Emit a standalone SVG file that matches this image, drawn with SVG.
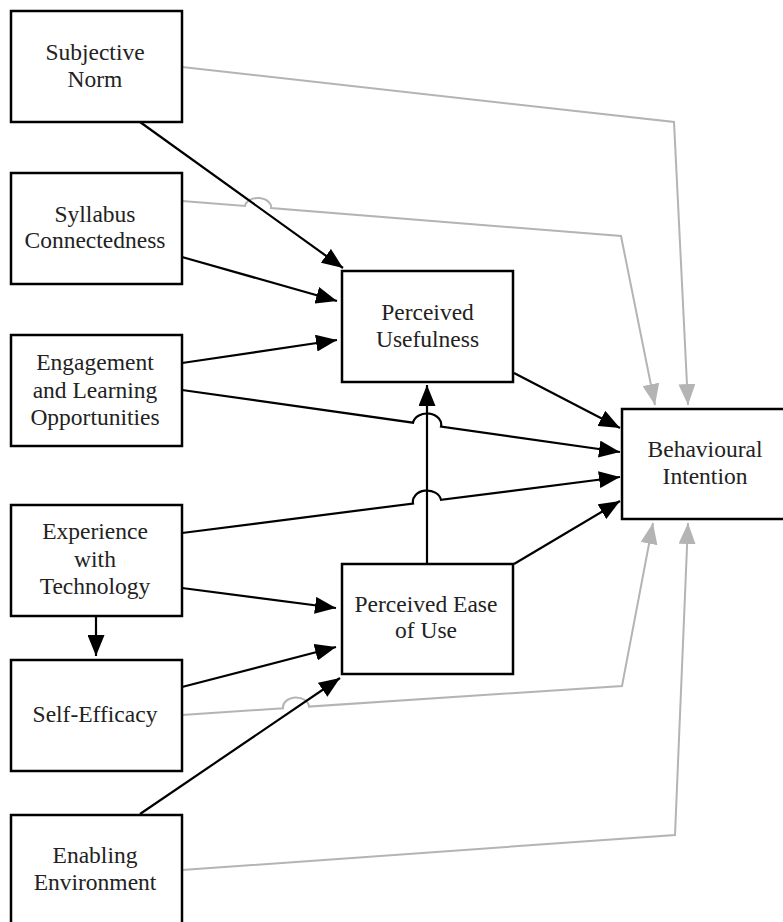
<svg xmlns="http://www.w3.org/2000/svg" width="783" height="922" viewBox="0 0 783 922">
  <defs>
    <style>
      .box { fill: #ffffff; stroke: #000000; stroke-width: 2.5; }
      .lbl { font-family: "Liberation Serif", "Times New Roman", serif; font-size: 23.5px; fill: #222222; text-anchor: middle; }
      .blk { fill: none; stroke: #000000; stroke-width: 2.2; }
      .gry { fill: none; stroke: #b4b4b4; stroke-width: 2; }
    </style>
    <marker id="ahBlack" markerUnits="userSpaceOnUse" markerWidth="21" markerHeight="17" refX="21" refY="8.5" orient="auto" viewBox="0 0 21 17">
      <path d="M0,0 L21,8.5 L0,17 z" fill="#000000"/>
    </marker>
    <marker id="ahGrey" markerUnits="userSpaceOnUse" markerWidth="21" markerHeight="17" refX="21" refY="8.5" orient="auto" viewBox="0 0 21 17">
      <path d="M0,0 L21,8.5 L0,17 z" fill="#b4b4b4"/>
    </marker>
  </defs>
  <rect width="783" height="922" fill="#ffffff"/>

  <!-- connectors -->
  <g id="connectors">
    <!-- grey paths to Behavioural Intention -->
    <path class="gry" marker-end="url(#ahGrey)" d="M182,67 L674,122 L688,405"/>
    <path class="gry" marker-end="url(#ahGrey)" d="M182,201 L245,206 A13,9 0 0 1 271,208.1 L621,236 L655,405"/>
    <path class="gry" marker-end="url(#ahGrey)" d="M182,715 L283,708.3 A13,10 0 0 1 309,706.6 L622,686 L653,523"/>
    <path class="gry" marker-end="url(#ahGrey)" d="M182,870 L675,835 L688,523"/>

    <!-- black paths -->
    <path class="blk" marker-end="url(#ahBlack)" d="M140,122 L343,268"/>
    <path class="blk" marker-end="url(#ahBlack)" d="M182,257 L337,301"/>
    <path class="blk" marker-end="url(#ahBlack)" d="M182,363 L337,340"/>
    <path class="blk" marker-end="url(#ahBlack)" d="M182,390 L413,422.7 A14,11 0 0 1 441,426.7 L620,452"/>
    <path class="blk" marker-end="url(#ahBlack)" d="M182,533 L413,503.5 A14,11 0 0 1 441,499.9 L620,477"/>
    <path class="blk" marker-end="url(#ahBlack)" d="M182,588 L336,608"/>
    <path class="blk" marker-end="url(#ahBlack)" d="M96,616 L96,656"/>
    <path class="blk" marker-end="url(#ahBlack)" d="M182,687 L336,647"/>
    <path class="blk" marker-end="url(#ahBlack)" d="M140,814 L340,678"/>
    <path class="blk" marker-end="url(#ahBlack)" d="M427,564 L427,385"/>
    <path class="blk" marker-end="url(#ahBlack)" d="M514,373 L620,428"/>
    <path class="blk" marker-end="url(#ahBlack)" d="M514,564 L620,501"/>
  </g>

  <!-- nodes -->
  <g id="subjective-norm">
    <rect class="box" x="11" y="11" width="171" height="111"/>
    <text class="lbl" x="95" y="60">Subjective</text>
    <text class="lbl" x="95" y="87">Norm</text>
  </g>
  <g id="syllabus-connectedness">
    <rect class="box" x="11" y="173" width="171" height="111"/>
    <text class="lbl" x="95" y="222">Syllabus</text>
    <text class="lbl" x="95" y="248">Connectedness</text>
  </g>
  <g id="engagement">
    <rect class="box" x="11" y="335" width="171" height="111"/>
    <text class="lbl" x="95" y="370">Engagement</text>
    <text class="lbl" x="95" y="398">and Learning</text>
    <text class="lbl" x="95" y="425">Opportunities</text>
  </g>
  <g id="experience">
    <rect class="box" x="11" y="505" width="171" height="111"/>
    <text class="lbl" x="95" y="539">Experience</text>
    <text class="lbl" x="95" y="567">with</text>
    <text class="lbl" x="95" y="594">Technology</text>
  </g>
  <g id="self-efficacy">
    <rect class="box" x="11" y="660" width="171" height="111"/>
    <text class="lbl" x="95" y="722">Self-Efficacy</text>
  </g>
  <g id="enabling-environment">
    <rect class="box" x="11" y="815" width="171" height="111"/>
    <text class="lbl" x="95" y="863">Enabling</text>
    <text class="lbl" x="95" y="890">Environment</text>
  </g>
  <g id="perceived-usefulness">
    <rect class="box" x="342" y="271" width="171" height="111"/>
    <text class="lbl" x="427.5" y="320">Perceived</text>
    <text class="lbl" x="427.5" y="347">Usefulness</text>
  </g>
  <g id="perceived-ease">
    <rect class="box" x="342" y="564" width="171" height="110"/>
    <text class="lbl" x="426" y="612">Perceived Ease</text>
    <text class="lbl" x="426" y="638">of Use</text>
  </g>
  <g id="behavioural-intention">
    <rect class="box" x="622" y="409" width="171" height="110"/>
    <text class="lbl" x="705" y="457">Behavioural</text>
    <text class="lbl" x="705" y="484">Intention</text>
  </g>
</svg>
